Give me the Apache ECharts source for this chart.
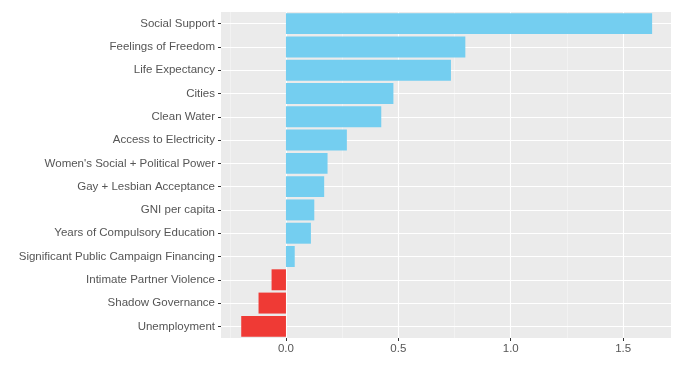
<!DOCTYPE html>
<html>
<head>
<meta charset="utf-8">
<script src="https://cdn.jsdelivr.net/npm/echarts@6/dist/echarts.min.js"></script>
<style>html,body{margin:0;padding:0;background:#fff}#c{width:692px;height:369px}</style>
</head>
<body>
<div id="c"></div>
<script>
const categories = ["Social Support","Feelings of Freedom","Life Expectancy","Cities","Clean Water","Access to Electricity","Women's Social + Political Power","Gay + Lesbian Acceptance","GNI per capita","Years of Compulsory Education","Significant Public Campaign Financing","Intimate Partner Violence","Shadow Governance","Unemployment"];
const values = [1.629, 0.798, 0.734, 0.478, 0.424, 0.271, 0.185, 0.170, 0.126, 0.111, 0.039, -0.064, -0.122, -0.199];
const xTicks = [0, 0.5, 1.0, 1.5];
const xMinor = [-0.25, 0.25, 0.75, 1.25];
const xRange = [-0.289, 1.713];

const posColor = '#74CEF0', negColor = '#EF3A35';
const chart = echarts.init(document.getElementById('c'), null, {renderer: 'canvas'});
const gridLines = [];
xMinor.forEach(v => gridLines.push({xAxis: v, lineStyle: {color: '#F7F7F7', width: 0.6, type: 'solid'}}));
xTicks.forEach(v => gridLines.push({xAxis: v, lineStyle: {color: '#fff', width: 1.1, type: 'solid'}}));
categories.forEach(c => gridLines.push({yAxis: c, lineStyle: {color: '#fff', width: 1.1, type: 'solid'}}));

chart.setOption({
  animation: false,
  textStyle: {fontFamily: 'Liberation Sans, Arial, sans-serif'},
  grid: {left: 221, right: 21, top: 12, bottom: 31, show: true, backgroundColor: '#EBEBEB', borderWidth: 0},
  xAxis: {
    type: 'value', min: xRange[0], max: xRange[1],
    axisLine: {show: false},
    splitLine: {show: false},
    axisTick: {show: true, customValues: xTicks, length: 3, lineStyle: {color: '#333', width: 1}},
    axisLabel: {customValues: xTicks, color: '#555', fontSize: 11.5, margin: 5, formatter: v => v.toFixed(1)}
  },
  yAxis: {
    type: 'category', data: categories, inverse: true,
    axisLine: {show: false, onZero: false},
    splitLine: {show: false},
    axisTick: {show: true, alignWithLabel: true, length: 3, lineStyle: {color: '#333', width: 1}},
    axisLabel: {color: '#555', fontSize: 11.5, margin: 6}
  },
  series: [
    {
      type: 'line', z: 1, data: [], silent: true, showSymbol: false,
      markLine: {symbol: 'none', silent: true, label: {show: false}, animation: false, z: 1, data: gridLines}
    },
    {
      type: 'bar', z: 3, barCategoryGap: '10%',
      data: values.map(v => ({value: v, itemStyle: {color: v >= 0 ? posColor : negColor}})),
      itemStyle: {borderWidth: 0}
    }
  ]
});
</script>
</body>
</html>
